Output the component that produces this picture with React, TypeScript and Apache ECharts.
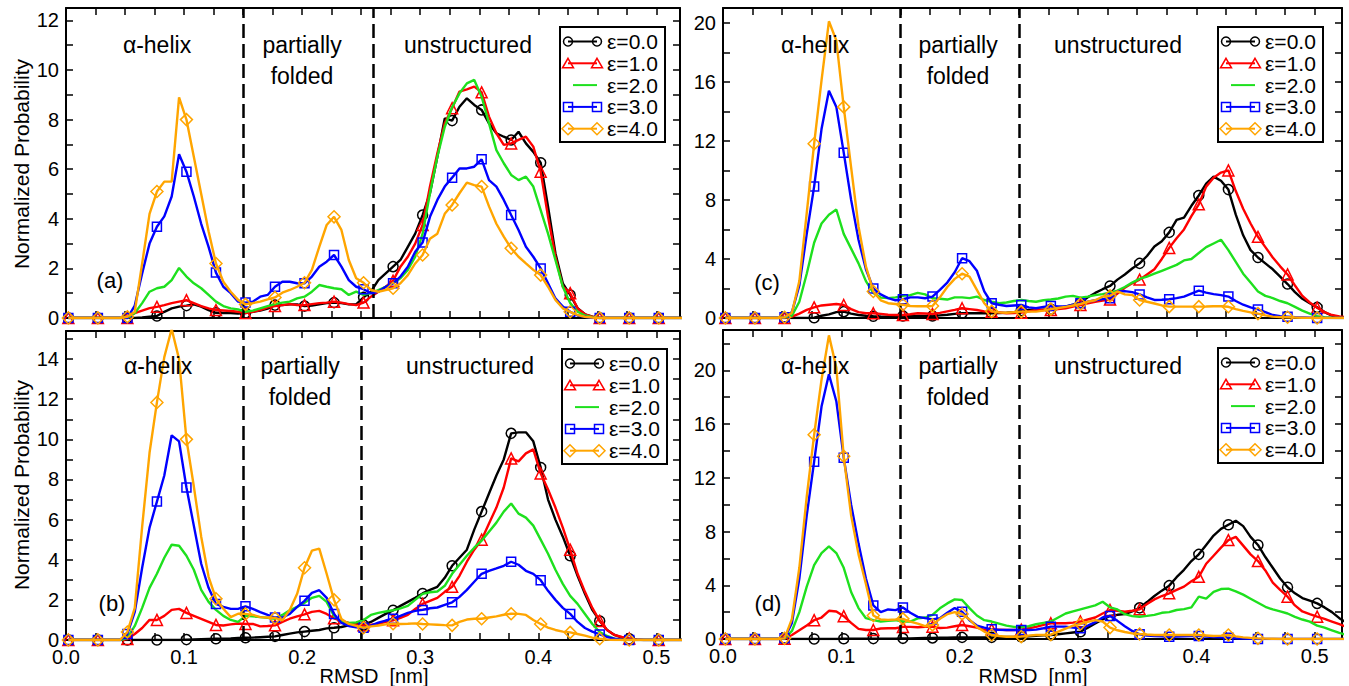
import React, { useEffect, useRef } from "react";
import * as echarts from "echarts";

// RMSD bin centres [nm]
const rmsd = [
  0.002, 0.00825, 0.0145, 0.02075, 0.027, 0.03325, 0.0395, 0.04575, 0.052, 0.05825,
  0.0645, 0.07075, 0.077, 0.08325, 0.0895, 0.09575, 0.102, 0.10825, 0.1145, 0.12075,
  0.127, 0.13325, 0.1395, 0.14575, 0.152, 0.15825, 0.1645, 0.17075, 0.177, 0.18325,
  0.1895, 0.19575, 0.202, 0.20825, 0.2145, 0.22075, 0.227, 0.23325, 0.2395, 0.24575,
  0.252, 0.25825, 0.2645, 0.27075, 0.277, 0.28325, 0.2895, 0.29575, 0.302, 0.30825,
  0.3145, 0.32075, 0.327, 0.33325, 0.3395, 0.34575, 0.352, 0.35825, 0.3645, 0.37075,
  0.377, 0.38325, 0.3895, 0.39575, 0.402, 0.40825, 0.4145, 0.42075, 0.427, 0.43325,
  0.4395, 0.44575, 0.452, 0.45825, 0.4645, 0.47075, 0.477, 0.48325, 0.4895, 0.49575,
  0.502, 0.50825, 0.5145, 0.52075, 0.527,
];

const seriesNames = ["ε=0.0", "ε=1.0", "ε=2.0", "ε=3.0", "ε=4.0"];
const xTickLabels = ["0.0", "0.1", "0.2", "0.3", "0.4", "0.5"];

// ---- panel (a)
const aEps0 = [0,0,0,0,0,0,0,0,0,0, 0.02,0.05,0.08,0.25,0.39,0.46,0.5,0.55,0.46,0.32, 0.21,0.2,0.2,0.18,0.2,0.25,0.3,0.38,0.52,0.52, 0.55,0.55,0.48,0.5,0.55,0.6,0.62,0.6,0.55,0.55, 0.83,1.06,1.53,1.8,2.07,2.34,2.87,3.4,4.15,5.03, 6.5,8.05,7.96,8.52,8.86,8.59,8.39,7.85,7.45,7.31, 7.18,7.51,7.04,6.7,6.26,4.49,2.61,1.4,0.93,0.4, 0.15,0.05,0,0,0,0,0,0,0,0, 0,0,0,0,0];
const aEps1 = [0,0,0,0,0,0,0,0,0,0.2, 0.3,0.4,0.45,0.52,0.6,0.66,0.72,0.6,0.48,0.39, 0.32,0.3,0.28,0.25,0.2,0.25,0.32,0.43,0.48,0.52, 0.56,0.52,0.52,0.56,0.6,0.62,0.66,0.62,0.56,0.52, 0.62,0.86,1.06,1.26,1.5,2.07,2.47,3.0,3.75,5.3, 6.64,7.85,8.46,9.13,9.22,9.33,9.1,8.12,7.45,6.98, 7.04,7.18,7.31,6.91,5.9,4.08,2.47,1.26,1.0,0.39, 0.15,0.05,0,0,0,0,0,0,0,0, 0,0,0,0,0];
const aEps2 = [0,0,0,0,0,0,0,0,0,0.2, 0.6,1.06,1.2,1.26,1.53,2.02,1.67,1.4,1.2,0.93, 0.66,0.48,0.39,0.35,0.25,0.3,0.39,0.48,0.56,0.62, 0.66,0.79,0.86,1.06,1.33,1.26,1.2,1.16,0.93,1.06, 0.93,1.0,1.13,1.26,1.4,1.6,1.94,2.47,3.4,5.03, 6.5,7.7,8.5,9.06,9.46,9.6,8.92,7.85,6.77,6.24, 5.77,5.56,5.7,5.3,4.35,3.4,2.34,1.26,0.6,0.25, 0.1,0.03,0,0,0,0,0,0,0,0, 0,0,0,0,0];
const aEps3 = [0,0,0,0,0,0,0,0,0,0.5, 1.8,3.0,3.68,4.1,4.9,6.6,5.9,4.9,3.8,2.87, 1.83,1.26,1.0,0.66,0.62,0.66,0.86,0.93,1.26,1.46, 1.46,1.4,1.4,1.67,2.07,2.27,2.54,2.07,1.53,1.26, 1.16,1.0,1.06,1.26,1.4,1.67,2.07,2.67,3.04,4.08, 4.76,5.3,5.66,6.03,6.03,6.1,6.4,5.56,5.3,4.76, 4.15,3.55,2.87,2.47,2.0,1.4,0.79,0.46,0.25,0.1, 0.05,0,0,0,0,0,0,0,0,0, 0,0,0,0,0];
const aEps4 = [0,0,0,0,0,0,0,0,0.05,0.25, 2.2,4.2,5.1,5.5,5.5,8.9,8.0,6.5,5.0,3.5, 2.2,1.46,1.06,0.73,0.55,0.6,0.66,0.75,0.83,1.02, 1.13,1.26,1.42,1.94,2.87,3.75,4.08,3.55,2.34,1.6, 1.42,1.13,1.06,1.13,1.2,1.4,1.73,2.2,2.54,3.2, 3.4,4.2,4.56,5.03,5.46,5.36,5.3,4.5,3.8,3.28, 2.81,2.47,2.2,1.94,1.73,1.26,0.73,0.39,0.25,0.12, 0.05,0.02,0,0,0,0,0,0,0,0, 0,0,0,0,0];

// ---- panel (b)
const bEps0 = [0,0,0,0,0,0,0,0,0,0, 0,0,0,0,0,0,0.02,0.03,0.04,0.05, 0.06,0.07,0.08,0.1,0.11,0.12,0.14,0.16,0.18,0.25, 0.32,0.38,0.42,0.46,0.5,0.58,0.61,0.65,0.73,0.8, 0.75,0.9,1.1,1.3,1.48,1.7,1.9,2.1,2.32,2.5, 2.65,3.1,3.7,4.1,4.5,5.5,6.4,7.3,8.2,9.0, 10.3,10.35,10.35,9.9,8.6,7.0,6.0,5.15,4.2,3.2, 2.3,1.5,0.95,0.5,0.25,0.12,0.06,0.02,0,0, 0,0,0,0,0];
const bEps1 = [0,0,0,0,0,0,0,0,0.05,0.3, 0.6,1.0,1.0,1.2,1.5,1.55,1.35,1.2,1.05,0.9, 0.75,0.72,0.78,0.82,0.8,0.8,0.68,0.7,0.73,0.9, 1.06,1.18,1.28,1.4,1.45,1.3,1.08,0.95,0.85,0.78, 0.73,0.76,0.8,0.9,0.98,1.1,1.25,1.55,1.8,1.95, 2.1,2.4,2.65,3.2,3.9,4.5,5.0,5.8,6.6,7.6, 9.05,8.9,9.3,9.5,8.3,7.5,6.6,5.6,4.5,3.3, 2.4,1.6,0.95,0.5,0.25,0.15,0.08,0.03,0,0, 0,0,0,0,0];
const bEps2 = [0,0,0,0,0,0,0,0,0.1,0.7, 1.6,2.6,3.3,4.1,4.75,4.7,4.2,3.5,2.5,1.9, 1.5,1.2,1.0,0.9,1.2,1.18,1.14,1.1,1.06,1.25, 1.48,1.65,1.85,2.1,2.2,1.9,1.2,0.9,0.85,0.88, 1.0,1.25,1.35,1.42,1.48,1.58,1.7,2.0,2.3,2.38, 2.42,2.7,3.3,3.75,4.2,4.6,4.95,5.4,5.85,6.4, 6.8,6.3,6.1,5.7,5.0,4.3,3.5,2.8,2.2,1.8, 1.3,0.8,0.4,0.2,0.07,0,0,0,0,0, 0,0,0,0,0];
const bEps3 = [0,0,0,0,0,0,0,0,0.3,1.4, 3.6,5.6,6.9,8.2,10.2,9.9,7.6,5.7,3.8,2.6, 1.8,1.65,1.55,1.55,1.68,1.55,1.39,1.25,1.12,1.12, 1.3,1.65,1.95,2.35,2.48,2.1,1.3,0.85,0.7,0.63, 0.61,0.72,0.87,0.97,1.06,1.2,1.35,1.45,1.5,1.58, 1.62,1.75,1.88,2.15,2.5,2.9,3.3,3.45,3.57,3.7, 3.9,3.75,3.45,3.3,2.98,2.45,2.0,1.6,1.3,0.9, 0.6,0.42,0.28,0.15,0.07,0.02,0,0,0,0, 0,0,0,0,0];
const bEps4 = [0,0,0,0,0,0,0,0,0.4,1.6, 5.65,9.33,11.84,14.1,15.5,14.0,10.0,7.66,5.15,3.15, 2.06,1.56,1.14,1.31,1.3,1.25,1.14,1.12,1.1,0.98, 1.5,2.3,3.6,4.45,4.55,3.3,2.0,1.05,0.8,0.7, 0.61,0.68,0.72,0.78,0.81,0.8,0.81,0.83,0.8,0.78, 0.76,0.74,0.73,0.9,1.02,1.06,1.06,1.12,1.18,1.26, 1.31,1.3,1.25,1.0,0.8,0.62,0.5,0.42,0.38,0.3, 0.22,0.12,0.06,0.02,0,0,0,0,0,0, 0,0,0,0,0];

// ---- panel (c)
const cEps0 = [0,0,0,0,0,0,0,0,0,0, 0,0,0.02,0.15,0.25,0.4,0.43,0.3,0.2,0.15, 0.12,0.1,0.09,0.1,0.14,0.14,0.14,0.14,0.14,0.18, 0.22,0.28,0.32,0.32,0.32,0.32,0.32,0.34,0.36,0.4, 0.5,0.55,0.55,0.57,0.59,0.68,0.77,0.9,1.04,1.4, 1.7,1.95,2.17,2.6,2.95,3.35,3.7,4.2,4.85,5.2, 5.8,6.64,6.8,7.6,8.3,9.1,9.58,9.3,8.7,7.0, 5.6,4.6,4.1,3.7,3.3,2.8,2.3,1.75,1.3,1.0, 0.72,0.4,0.15,0.07,0.03];
const cEps1 = [0,0,0,0,0,0,0,0,0,0.1, 0.3,0.55,0.72,0.85,0.9,0.95,0.88,0.6,0.4,0.32, 0.32,0.28,0.22,0.2,0.2,0.25,0.32,0.3,0.27,0.35, 0.45,0.55,0.66,0.6,0.54,0.45,0.43,0.38,0.32,0.34, 0.36,0.45,0.54,0.54,0.54,0.6,0.66,0.78,0.88,1.0, 1.1,1.18,1.25,1.65,2.05,2.35,2.6,2.95,3.3,4.0, 4.75,5.4,6.0,6.9,7.7,8.9,9.5,9.85,10.0,8.6, 7.4,6.4,5.5,4.8,4.1,3.5,2.95,2.2,1.5,1.05, 0.7,0.4,0.2,0.1,0.05];
const cEps2 = [0,0,0,0,0,0,0,0,0.03,0.15, 1.1,3.0,5.1,6.4,7.0,7.35,5.7,4.7,3.7,2.5, 1.7,1.38,1.35,1.4,1.5,1.55,1.7,1.6,1.34,1.3, 1.25,1.4,1.4,1.35,1.45,1.22,1.1,1.0,1.05,1.15, 1.22,1.15,1.1,1.2,1.25,1.32,1.45,1.5,1.38,1.45, 1.55,1.62,1.72,1.85,2.1,2.4,2.65,2.8,3.0,3.2, 3.4,3.6,3.9,4.0,4.4,4.8,5.05,5.3,4.6,3.8, 3.0,2.4,1.8,1.5,1.35,1.15,1.0,0.75,0.5,0.3, 0.12,0.05,0.02,0,0];
const cEps3 = [0,0,0,0,0,0,0,0,0.05,0.4, 2.2,5.7,8.9,12.8,15.4,14.3,11.2,8.0,5.3,3.3, 2.0,1.6,1.35,1.2,1.27,1.4,1.4,1.34,1.45,1.9, 2.4,3.1,4.05,3.85,3.2,1.8,1.0,0.9,0.81,0.85, 0.88,0.72,0.66,0.75,0.81,0.78,0.78,0.9,1.0,1.1, 1.2,1.28,1.34,1.8,1.82,1.75,1.6,1.4,1.22,1.24, 1.27,1.35,1.45,1.65,1.85,1.72,1.62,1.55,1.45,1.15, 0.9,0.72,0.58,0.4,0.2,0.12,0.09,0.06,0.04,0.02, 0,0,0,0,0];
const cEps4 = [0,0,0,0,0,0,0,0,0.05,0.35, 2.5,7.1,11.8,16.1,20.1,18.8,14.3,10.2,6.2,3.5, 1.8,1.2,1.0,0.95,0.9,0.81,0.8,0.8,0.81,1.4, 2.1,2.65,3.0,2.8,1.9,1.0,0.45,0.38,0.36,0.4, 0.43,0.43,0.43,0.5,0.6,0.68,0.75,0.85,0.95,1.1, 1.2,1.45,1.5,1.8,1.6,1.56,1.22,1.1,0.98,0.85, 0.77,0.77,0.77,0.77,0.77,0.78,0.8,0.8,0.76,0.6, 0.48,0.38,0.3,0.18,0.09,0.06,0.05,0.03,0.02,0.01, 0,0,0,0,0];

// ---- panel (d)
const dEps0 = [0,0,0,0,0,0,0,0,0,0, 0,0,0,0,0,0,0.02,0.03,0.03,0.03, 0.03,0.03,0.03,0.03,0.05,0.05,0.06,0.07,0.08,0.09, 0.1,0.11,0.12,0.12,0.12,0.12,0.12,0.13,0.15,0.16, 0.17,0.2,0.24,0.27,0.3,0.35,0.42,0.48,0.54,0.85, 1.15,1.45,1.72,1.8,1.85,2.05,2.32,2.75,3.2,3.6, 3.97,4.6,5.15,5.8,6.3,7.0,7.7,8.2,8.5,8.8, 8.4,7.6,7.0,6.1,5.3,4.5,3.85,3.4,3.05,2.85, 2.65,2.35,2.0,1.55,1.2];
const dEps1 = [0,0,0,0,0,0,0,0,0.02,0.3, 0.65,1.0,1.4,1.6,2.1,2.05,1.7,1.2,0.75,0.67, 0.67,0.78,0.8,0.8,0.9,0.9,0.87,0.9,0.91,0.82, 0.85,0.95,1.04,0.95,0.85,0.68,0.72,0.7,0.67,0.67, 0.7,0.8,0.9,1.05,1.17,1.17,1.17,1.22,1.3,1.45, 1.6,1.9,2.16,2.1,2.03,2.1,2.21,2.6,2.95,3.2, 3.4,3.65,3.9,4.3,4.63,5.6,6.2,6.8,7.36,7.6, 6.95,6.3,5.8,5.1,4.2,3.65,3.15,2.5,2.05,1.85, 1.66,1.5,1.3,1.1,0.9];
const dEps2 = [0,0,0,0,0,0,0,0,0.03,0.6, 2.0,3.9,5.5,6.4,6.9,6.4,5.3,3.5,2.3,1.55, 1.4,1.3,1.35,1.4,1.3,1.3,1.54,1.6,1.8,2.28, 2.65,2.95,2.9,2.3,1.75,1.4,1.3,1.15,1.0,0.9, 0.88,0.95,1.1,1.2,1.3,1.6,1.9,2.05,2.2,2.35, 2.5,2.77,2.36,2.2,1.85,1.7,1.66,1.72,1.8,1.95, 2.0,2.16,2.22,2.35,3.15,3.0,3.5,3.72,3.75,3.55, 3.3,3.0,2.7,2.4,2.2,2.05,1.9,1.65,1.45,1.29, 1.0,0.85,0.65,0.45,0.3];
const dEps3 = [0,0,0,0,0,0,0,0,0.05,1.2, 4.5,9.2,13.2,17.3,19.7,17.7,13.5,10.0,7.1,4.5, 2.5,2.0,2.2,2.15,2.35,1.95,1.65,1.55,1.46,1.55, 1.95,2.3,2.03,1.4,1.0,0.85,0.72,0.68,0.67,0.67, 0.67,0.67,0.7,0.8,0.92,0.92,0.92,0.85,0.8,1.0, 1.25,1.6,1.72,1.35,0.95,0.6,0.35,0.25,0.22,0.2, 0.17,0.18,0.2,0.22,0.22,0.18,0.15,0.12,0.1,0.06, 0.03,0.01,0,0,0,0,0,0,0,0, 0,0,0,0,0];
const dEps4 = [0,0,0,0,0,0,0,0,0.05,1.5, 5.3,10.6,15.2,19.3,22.6,20.2,13.6,9.2,6.3,4.1, 1.75,1.45,1.42,1.45,1.5,1.3,1.15,0.95,1.05,1.5, 1.85,2.0,1.86,1.45,0.9,0.55,0.3,0.22,0.17,0.17, 0.18,0.25,0.3,0.3,0.32,0.55,0.78,1.0,1.12,1.28, 1.4,1.3,0.85,0.65,0.52,0.42,0.37,0.33,0.3,0.3, 0.3,0.3,0.3,0.3,0.3,0.26,0.22,0.25,0.3,0.2, 0.12,0.08,0.05,0.03,0.02,0,0,0,0,0, 0,0,0,0,0];

const FONT = "'Liberation Sans', Arial, Helvetica, sans-serif";
const COLORS = ["#000000", "#ff0000", "#1ee01e", "#0000ff", "#ffa500"];
const SYMBOLS = ["circle", "triangle", "none", "rect", "diamond"];
const SYMBOL_SIZES = [10, 11, 0, 9, 12];

type Panel = {
  label: string;
  data: number[][];
  ymax: number;
  yStep: number;
  yLabelStep: number;
  xmax: number;
  grid: { left: number; top: number; width: number; height: number };
  showX: boolean;
  dashes: number[];
  legend: [number, number];
  texts: { helix: [number, number]; partially: [number, number]; folded: [number, number]; unstructured: [number, number]; tag: [number, number] };
};

const panels: Panel[] = [
  {
    label: "(a)", data: [aEps0, aEps1, aEps2, aEps3, aEps4], ymax: 12.5, yStep: 1, yLabelStep: 2, xmax: 0.52,
    grid: { left: 66, top: 8, width: 614, height: 310 }, showX: false, dashes: [0.153, 0.259], legend: [560, 27],
    texts: { helix: [157, 45], partially: [302, 45], folded: [302, 76], unstructured: [468, 45], tag: [110, 280] },
  },
  {
    label: "(b)", data: [bEps0, bEps1, bEps2, bEps3, bEps4], ymax: 15.4, yStep: 1, yLabelStep: 2, xmax: 0.52,
    grid: { left: 66, top: 331, width: 614, height: 309 }, showX: true, dashes: [0.15, 0.25], legend: [562, 349],
    texts: { helix: [158, 366], partially: [300, 366], folded: [300, 397], unstructured: [470, 366], tag: [112, 603] },
  },
  {
    label: "(c)", data: [cEps0, cEps1, cEps2, cEps3, cEps4], ymax: 21, yStep: 2, yLabelStep: 4, xmax: 0.523,
    grid: { left: 723, top: 8, width: 619, height: 310 }, showX: false, dashes: [0.15, 0.25], legend: [1218, 27],
    texts: { helix: [815, 45], partially: [958, 45], folded: [958, 76], unstructured: [1118, 45], tag: [767, 282] },
  },
  {
    label: "(d)", data: [dEps0, dEps1, dEps2, dEps3, dEps4], ymax: 23, yStep: 2, yLabelStep: 4, xmax: 0.523,
    grid: { left: 723, top: 330, width: 619, height: 309 }, showX: true, dashes: [0.15, 0.25], legend: [1218, 348],
    texts: { helix: [815, 366], partially: [958, 366], folded: [958, 397], unstructured: [1118, 366], tag: [768, 603] },
  },
];

function fmtX(v: number) {
  const k = Math.round(v * 10);
  if (Math.abs(v * 10 - k) > 1e-6) return "";
  return xTickLabels[k] ?? "";
}

function markerEl(kind: string, cx: number, cy: number, color: string) {
  const style = { fill: "none", stroke: color, lineWidth: 1.5 };
  if (kind === "circle") return { type: "circle", z: 101, shape: { cx, cy, r: 4.5 }, style };
  if (kind === "triangle")
    return { type: "polygon", z: 101, shape: { points: [[cx, cy - 5], [cx + 5.5, cy + 4.5], [cx - 5.5, cy + 4.5]] }, style };
  if (kind === "rect") return { type: "rect", z: 101, shape: { x: cx - 4.5, y: cy - 4.5, width: 9, height: 9 }, style };
  return { type: "polygon", z: 101, shape: { points: [[cx, cy - 6], [cx + 6, cy], [cx, cy + 6], [cx - 6, cy]] }, style };
}

function legendEls(L: number, T: number) {
  const els: any[] = [
    { type: "rect", z: 100, shape: { x: L, y: T, width: 105, height: 115 }, style: { fill: "#fff", stroke: "#000", lineWidth: 2 } },
  ];
  seriesNames.forEach((name, k) => {
    const cy = T + 14.5 + k * 21.8;
    const col = COLORS[k];
    const x1 = SYMBOLS[k] === "none" ? L + 13 : L + 8;
    const x2 = L + 37;
    els.push({ type: "line", z: 101, shape: { x1, y1: cy, x2, y2: cy }, style: { stroke: col, lineWidth: 2 } });
    if (SYMBOLS[k] !== "none") {
      els.push(markerEl(SYMBOLS[k], L + 8, cy, col));
      els.push(markerEl(SYMBOLS[k], L + 37, cy, col));
    }
    els.push({
      type: "text", z: 101, x: L + 47, y: cy,
      style: { text: name, font: `21px ${FONT}`, fill: "#000", align: "left", verticalAlign: "middle" },
    });
  });
  return els;
}

function textEl(text: string, x: number, y: number, size = 22) {
  return { type: "text", z: 100, x, y, style: { text, font: `${size}px ${FONT}`, fill: "#000", align: "center", verticalAlign: "middle", lineHeight: size } };
}

function buildOption() {
  const grid: any[] = [];
  const xAxis: any[] = [];
  const yAxis: any[] = [];
  const series: any[] = [];
  const graphic: any[] = [];

  panels.forEach((p, gi) => {
    grid.push({ ...p.grid, containLabel: false });
    const axisLine = { show: true, onZero: false, lineStyle: { color: "#000", width: 2 } };
    const axisTick = { show: true, inside: true, length: 7, lineStyle: { color: "#000", width: 1.5 } };
    const xCommon = { type: "value", gridIndex: gi, min: 0, max: p.xmax, interval: 0.025, splitLine: { show: false }, axisLine, axisTick };
    xAxis.push({
      ...xCommon, position: "bottom",
      axisLabel: { show: p.showX, margin: 10, color: "#000", fontSize: 20, lineHeight: 14, fontFamily: FONT, formatter: fmtX, showMaxLabel: false },
    });
    xAxis.push({ ...xCommon, position: "top", axisLabel: { show: false } });
    const yCommon = { type: "value", gridIndex: gi, min: 0, max: p.ymax, interval: p.yStep, splitLine: { show: false }, axisLine, axisTick };
    yAxis.push({
      ...yCommon, position: "left",
      axisLabel: {
        show: true, margin: 7, color: "#000", fontSize: 20, lineHeight: 14, fontFamily: FONT, showMaxLabel: false,
        formatter: (v: number) => (Math.abs(v / p.yLabelStep - Math.round(v / p.yLabelStep)) < 1e-6 ? String(Math.round(v)) : ""),
      },
    });
    yAxis.push({ ...yCommon, position: "right", axisLabel: { show: false } });

    const xIdx = gi * 2;
    const yIdx = gi * 2;
    p.data.forEach((ys, k) => {
      const sym = SYMBOLS[k];
      const s: any = {
        type: "line", name: seriesNames[k], xAxisIndex: xIdx, yAxisIndex: yIdx,
        data: rmsd.map((x, i) => [x, ys[i]]),
        clip: true, silent: true, emphasis: { disabled: true },
        lineStyle: { color: COLORS[k], width: 2.4 },
        z: 2 + k,
      };
      if (sym === "none") {
        s.symbol = "none";
        s.showSymbol = false;
      } else {
        s.symbol = (_v: any, params: any) => (params.dataIndex % 4 === 0 ? sym : "none");
        s.symbolSize = SYMBOL_SIZES[k];
        s.showSymbol = true;
        s.showAllSymbol = true;
        s.itemStyle = { color: "rgba(255,255,255,0)", borderColor: COLORS[k], borderWidth: 1.5 };
      }
      if (k === 0) {
        s.markLine = {
          silent: true, symbol: ["none", "none"], label: { show: false }, animation: false,
          lineStyle: { color: "#000", width: 2.5, type: [14, 6] },
          data: p.dashes.map((d) => ({ xAxis: d })),
        };
      }
      series.push(s);
    });

    const t = p.texts;
    graphic.push(textEl("α-helix", t.helix[0], t.helix[1], 23));
    graphic.push(textEl("partially", t.partially[0], t.partially[1], 23));
    graphic.push(textEl("folded", t.folded[0], t.folded[1], 23));
    graphic.push(textEl("unstructured", t.unstructured[0], t.unstructured[1], 23));
    graphic.push(textEl(p.label, t.tag[0], t.tag[1], 22));
    graphic.push(...legendEls(p.legend[0], p.legend[1]));
  });

  graphic.push({
    type: "text", z: 100, x: 21, y: 164, rotation: Math.PI / 2,
    style: { text: "Normalized Probability", font: `21px ${FONT}`, fill: "#000", align: "center", verticalAlign: "middle" },
  });
  graphic.push({
    type: "text", z: 100, x: 21, y: 485, rotation: Math.PI / 2,
    style: { text: "Normalized Probability", font: `21px ${FONT}`, fill: "#000", align: "center", verticalAlign: "middle" },
  });
  graphic.push(textEl("RMSD  [nm]", 374, 676, 20));
  graphic.push(textEl("RMSD  [nm]", 1033, 676, 20));

  return { animation: false, backgroundColor: "#fff", grid, xAxis, yAxis, series, graphic };
}

export default function App() {
  const ref = useRef<HTMLDivElement>(null);
  useEffect(() => {
    if (!ref.current) return;
    const chart = echarts.init(ref.current, undefined, { renderer: "svg" });
    chart.setOption(buildOption() as any);
    return () => chart.dispose();
  }, []);
  return <div ref={ref} style={{ position: "fixed", left: 0, top: 0, width: 1349, height: 686, background: "#fff" }} />;
}
